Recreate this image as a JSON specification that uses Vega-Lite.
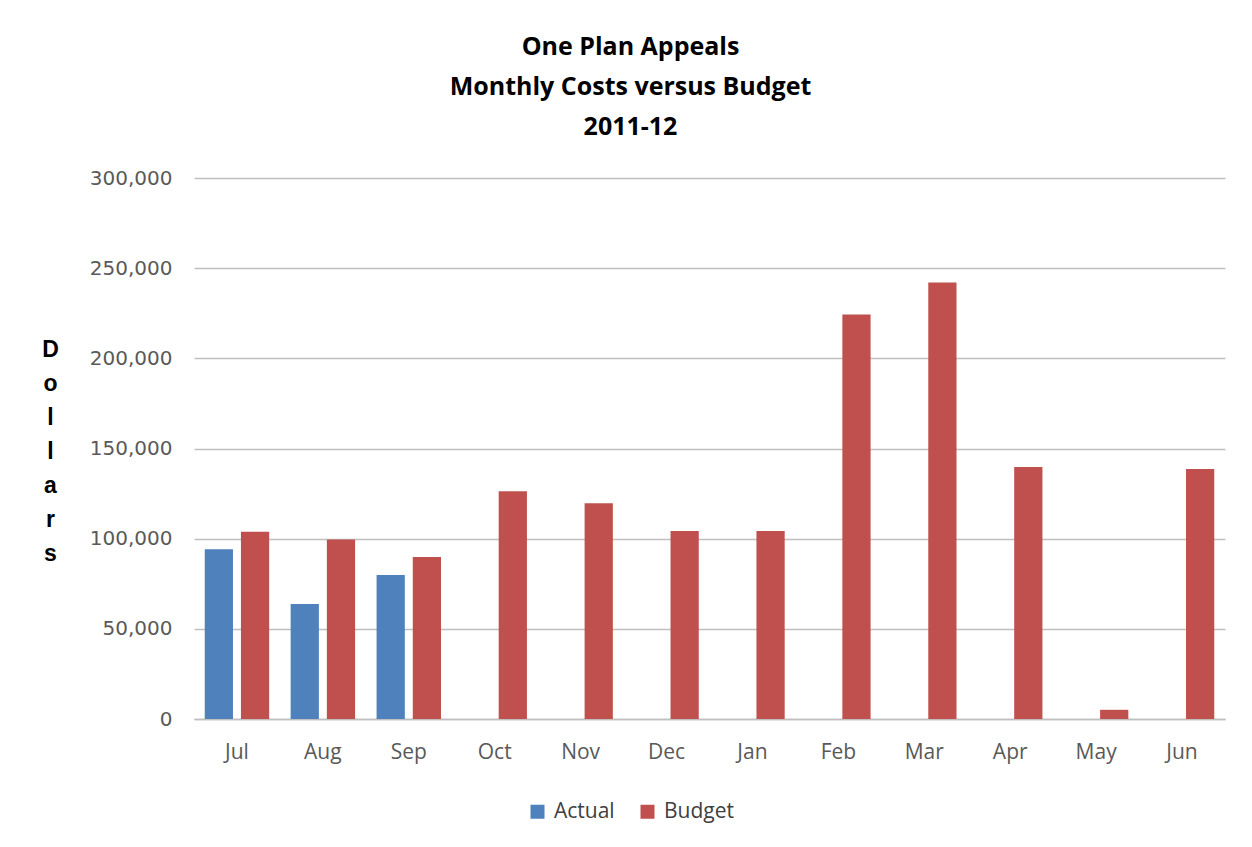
{
  "$schema": "https://vega.github.io/schema/vega-lite/v6.json",
  "width": 1031,
  "height": 541,
  "autosize": {"type": "none"},
  "padding": {"left": 194, "top": 178, "right": 27, "bottom": 128},
  "background": "white",
  "title": {
    "text": ["One Plan Appeals", "Monthly Costs versus Budget", "2011-12"],
    "font": "Open Sans",
    "fontWeight": "bold",
    "fontSize": 25,
    "lineHeight": 40,
    "color": "#000000",
    "anchor": "middle",
    "dx": -79,
    "offset": 28
  },
  "data": {
    "values": [
      {"month": "Jul", "series": "Actual", "value": 94100},
      {"month": "Jul", "series": "Budget", "value": 103900},
      {"month": "Aug", "series": "Actual", "value": 63800},
      {"month": "Aug", "series": "Budget", "value": 99600},
      {"month": "Sep", "series": "Actual", "value": 79900},
      {"month": "Sep", "series": "Budget", "value": 89800},
      {"month": "Oct", "series": "Budget", "value": 126300},
      {"month": "Nov", "series": "Budget", "value": 119700},
      {"month": "Dec", "series": "Budget", "value": 104200},
      {"month": "Jan", "series": "Budget", "value": 104200},
      {"month": "Feb", "series": "Budget", "value": 224300},
      {"month": "Mar", "series": "Budget", "value": 242000},
      {"month": "Apr", "series": "Budget", "value": 139800},
      {"month": "May", "series": "Budget", "value": 5100},
      {"month": "Jun", "series": "Budget", "value": 138700}
    ]
  },
  "mark": {"type": "bar"},
  "encoding": {
    "x": {
      "field": "month",
      "type": "nominal",
      "sort": ["Jul", "Aug", "Sep", "Oct", "Nov", "Dec", "Jan", "Feb", "Mar", "Apr", "May", "Jun"],
      "scale": {"paddingInner": 0.25, "paddingOuter": 0.125},
      "axis": {
        "title": null,
        "labelAngle": 0,
        "labelFont": "Open Sans",
        "labelFontSize": 21,
        "labelColor": "#595959",
        "labelPadding": 22,
        "ticks": false,
        "domainColor": "#bfbfbf",
        "domainWidth": 1.5
      }
    },
    "xOffset": {
      "field": "series",
      "type": "nominal",
      "scale": {"paddingInner": 0.22, "paddingOuter": 0}
    },
    "y": {
      "field": "value",
      "type": "quantitative",
      "scale": {"domain": [0, 300000], "nice": false},
      "axis": {
        "values": [0, 50000, 100000, 150000, 200000, 250000, 300000],
        "format": ",d",
        "title": ["D", "o", "l", "l", "a", "r", "s"],
        "titleAngle": 0,
        "titleX": -144,
        "titleY": 160,
        "titleAlign": "center",
        "titleBaseline": "top",
        "titleFont": "Liberation Sans",
        "titleFontWeight": "bold",
        "titleFontSize": 23,
        "titleLineHeight": 34,
        "titleColor": "#000000",
        "labelFont": "DejaVu Sans",
        "labelFontSize": 20,
        "labelColor": "#595959",
        "labelPadding": 22,
        "ticks": false,
        "domain": false,
        "grid": true,
        "gridColor": "#bfbfbf",
        "gridWidth": 1.5
      }
    },
    "color": {
      "field": "series",
      "type": "nominal",
      "scale": {"domain": ["Actual", "Budget"], "range": ["#4F81BD", "#C0504D"]},
      "legend": {
        "title": null,
        "orient": "none",
        "direction": "horizontal",
        "legendX": 333,
        "legendY": 623,
        "symbolType": "square",
        "symbolSize": 196,
        "symbolStrokeWidth": 0,
        "symbolOpacity": 1,
        "labelFont": "Open Sans",
        "labelFontSize": 21,
        "labelColor": "#404040",
        "labelOffset": 6,
        "columnPadding": 22
      }
    }
  },
  "config": {"view": {"stroke": null}}
}
